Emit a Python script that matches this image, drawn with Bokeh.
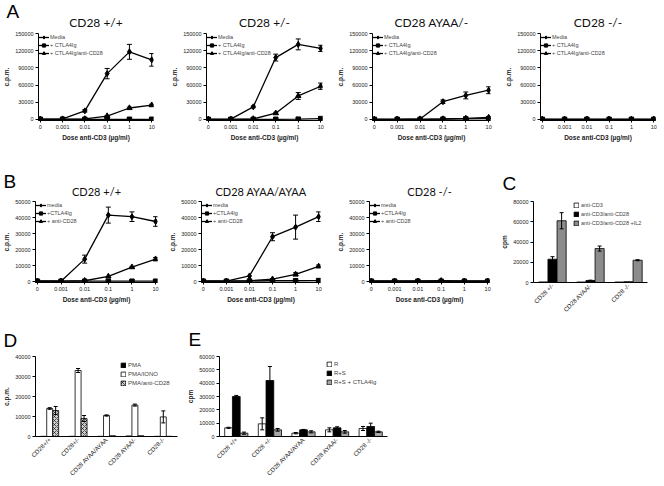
import math
from bokeh.plotting import figure
from bokeh.layouts import row, column
from bokeh.models import (ColumnDataSource, Range1d, FixedTicker, Whisker, TeeHead,
                          Title, FactorRange, NumeralTickFormatter)
from bokeh.transform import dodge
from bokeh.embed import file_html
from bokeh.resources import INLINE

# ---------------- data ----------------
DOSES = ["0", "0.001", "0.01", "0.1", "1", "10"]

A_SERIES = ["Media", "+ CTLA4Ig", "+ CTLA4Ig/anti-CD28"]
B_SERIES = ["media", "+CTLA4Ig", "+ anti-CD28"]

A_TITLES = ["CD28 +/+", "CD28 +/-", "CD28 AYAA/-", "CD28 -/-"]
A1_media = [500, 1000, 15000, 80000, 118000, 104000]
A1_media_err = [0, 0, 2000, 9000, 13000, 11000]
A1_ctla = [300, 300, 300, 300, 300, 300]
A1_ctla_err = [0, 0, 0, 0, 0, 0]
A1_anti = [300, 500, 1000, 6000, 20000, 25000]
A1_anti_err = [0, 0, 0, 1000, 1500, 1500]

A2_media = [300, 500, 22000, 108000, 131000, 124000]
A2_media_err = [0, 0, 1500, 6000, 9500, 5500]
A2_ctla = [200, 200, 200, 300, 500, 1500]
A2_ctla_err = [0, 0, 0, 0, 0, 500]
A2_anti = [200, 300, 1000, 11000, 41000, 58000]
A2_anti_err = [0, 0, 0, 1500, 6000, 5500]

A3_media = [300, 300, 1000, 31000, 42000, 51000]
A3_media_err = [0, 0, 0, 3000, 6000, 6000]
A3_ctla = [200, 200, 200, 500, 1000, 1500]
A3_ctla_err = [0, 0, 0, 0, 0, 0]
A3_anti = [200, 200, 300, 800, 2000, 3500]
A3_anti_err = [0, 0, 0, 0, 0, 0]

A4_media = [300, 300, 300, 300, 300, 300]
A4_media_err = [0, 0, 0, 0, 0, 0]
A4_ctla = [200, 200, 200, 200, 200, 200]
A4_ctla_err = [0, 0, 0, 0, 0, 0]
A4_anti = [200, 200, 200, 200, 200, 200]
A4_anti_err = [0, 0, 0, 0, 0, 0]

B_TITLES = ["CD28 +/+", "CD28 AYAA/AYAA", "CD28 -/-"]
B1_media = [200, 200, 14000, 41500, 40500, 37500]
B1_media_err = [0, 0, 2500, 5000, 3000, 3000]
B1_ctla = [200, 200, 200, 200, 200, 200]
B1_ctla_err = [0, 0, 0, 0, 0, 0]
B1_anti = [200, 200, 500, 3200, 9000, 14000]
B1_anti_err = [0, 0, 0, 0, 500, 1000]

B2_media = [200, 200, 3500, 28000, 34000, 40500]
B2_media_err = [0, 0, 0, 2500, 7500, 3000]
B2_ctla = [200, 200, 300, 500, 500, 600]
B2_ctla_err = [0, 0, 0, 0, 0, 0]
B2_anti = [200, 200, 500, 1500, 4500, 9500]
B2_anti_err = [0, 0, 0, 0, 1000, 800]

B3_media = [200, 200, 300, 600, 300, 300]
B3_media_err = [0, 0, 0, 0, 0, 0]
B3_ctla = [200, 200, 200, 200, 200, 200]
B3_ctla_err = [0, 0, 0, 0, 0, 0]
B3_anti = [200, 200, 200, 200, 200, 200]
B3_anti_err = [0, 0, 0, 0, 0, 0]

C_GROUPS = ["CD28 +/-", "CD28 AYAA/-", "CD28 -/-"]
C_SERIES = ["anti-CD3", "anti-CD3/anti-CD28", "anti-CD3/anti-CD28 +IL2"]
C_cd3 = [600, 500, 500]
C_cd3_err = [0, 0, 0]
C_cd28 = [23000, 2000, 800]
C_cd28_err = [2500, 300, 0]
C_il2 = [61000, 33500, 22000]
C_il2_err = [8000, 2500, 500]

D_GROUPS = ["CD28+/+", "CD28+/-", "CD28 AYAA/AYAA", "CD28 AYAA/-", "CD28-/-"]
D_SERIES = ["PMA", "PMA/IONO", "PMA/anti-CD28"]
D_pma = [100, 100, 100, 300, 100]
D_pma_err = [0, 0, 0, 0, 0]
D_iono = [14000, 33000, 10500, 15700, 9800]
D_iono_err = [400, 1000, 300, 500, 3000]
D_cd28 = [13000, 9000, 400, 400, 100]
D_cd28_err = [2000, 1500, 0, 0, 0]

E_GROUPS = ["CD28 +/+", "CD28 +/-", "CD28 AYAA/AYAA", "CD28 AYAA/-", "CD28 -/-"]
E_SERIES = ["R", "R+S", "R+S + CTLA4Ig"]
E_r = [6500, 9500, 2500, 5000, 6000]
E_r_err = [400, 4500, 500, 1500, 1500]
E_rs = [30000, 42000, 5000, 6500, 7500]
E_rs_err = [800, 10500, 300, 800, 2500]
E_rsc = [2500, 5000, 3500, 3500, 3500]
E_rsc_err = [800, 1000, 800, 1000, 500]

# ---------------- styling helpers ----------------
TICK_FONT = "Liberation Sans"
TITLE_FONT = "Lato"
MARKERS = [("diamond", 6), ("square", 4.5), ("triangle", 5.5)]
HAS_STANDOFF = "standoff" in Title.properties()


def style(p, ylabel, xlabel=None):
    for ax in (p.xaxis[0], p.yaxis[0]):
        ax.axis_line_color = "black"
        ax.axis_line_width = 1
        ax.major_tick_line_color = "black"
        ax.minor_tick_line_color = None
        ax.major_tick_in = 0
        ax.major_tick_out = 2
        ax.major_label_text_font = TICK_FONT
        ax.major_label_text_font_size = "5.5px"
        ax.major_label_text_color = "#222222"
        ax.axis_label_text_font = TICK_FONT
        ax.axis_label_text_font_size = "6.5px"
        ax.axis_label_text_font_style = "bold"
        ax.axis_label_text_color = "#222222"
        ax.major_label_standoff = 2
        ax.axis_label_standoff = 2
    p.yaxis[0].axis_label = ylabel
    if xlabel:
        p.xaxis[0].axis_label = xlabel
    p.xgrid.visible = False
    p.ygrid.visible = False
    p.outline_line_color = None
    p.background_fill_color = "white"
    p.border_fill_color = "white"


def add_titles(p, letter, title, tsize, lb, letter_standoff, title_standoff=7):
    # panel letter: the plot's own (outermost) title
    p.title.text = letter
    p.title.align = "left"
    p.title.offset = -lb + 1
    p.title.text_font = TICK_FONT
    p.title.text_font_size = "19px"
    p.title.text_font_style = "normal"
    p.title.text_color = "black"
    if HAS_STANDOFF:
        p.title.standoff = letter_standoff if letter else 0
    if title:
        t = Title(text=title, align="center", text_font=TITLE_FONT, text_font_size=tsize,
                  text_font_style="normal", text_color="#111111")
        if HAS_STANDOFF:
            t.standoff = title_standoff
        p.add_layout(t, "above")


def line_panel(names, ys, errs, ymax, ystep, w, lb, rb, tb, hf, bb,
               letter="", title="", tsize="12px", lso=-24):
    n = len(DOSES)
    idx = list(range(n))
    p = figure(width=w, height=tb + hf + bb, output_backend="svg", toolbar_location=None,
               x_range=Range1d(-0.08, n - 1 + 0.08), y_range=Range1d(-0.012 * ymax, ymax),
               min_border_left=lb, min_border_right=rb, min_border_top=tb, min_border_bottom=bb)
    for name, y, e, (m, sz) in zip(names, ys, errs, MARKERS):
        src = ColumnDataSource(dict(x=idx, y=y))
        p.line("x", "y", source=src, line_color="black", line_width=1.3, legend_label=name)
        p.scatter("x", "y", source=src, marker=m, size=sz, fill_color="black",
                  line_color="black", legend_label=name)
        pts = [(i, yy, ee) for i, yy, ee in zip(idx, y, e) if ee > 0]
        if pts:
            wsrc = ColumnDataSource(dict(x=[q[0] for q in pts],
                                         lo=[q[1] - q[2] for q in pts],
                                         hi=[q[1] + q[2] for q in pts]))
            p.add_layout(Whisker(source=wsrc, base="x", lower="lo", upper="hi",
                                 line_color="black", line_width=1,
                                 upper_head=TeeHead(size=5, line_color="black", line_width=1),
                                 lower_head=TeeHead(size=5, line_color="black", line_width=1)))
    style(p, "c.p.m.", "Dose anti-CD3 (\u00b5g/ml)")
    p.xaxis[0].ticker = FixedTicker(ticks=idx)
    p.xaxis[0].major_label_overrides = {i: d for i, d in zip(idx, DOSES)}
    p.yaxis[0].ticker = FixedTicker(ticks=list(range(0, ymax + 1, ystep)))
    p.yaxis[0].formatter = NumeralTickFormatter(format="0")
    p.yaxis[0].major_tick_out = 3
    lg = p.legend[0]
    lg.location = "top_left"
    lg.margin = 0
    lg.padding = 1
    lg.spacing = 0
    lg.label_text_font = TICK_FONT
    lg.label_text_font_size = "5.5px"
    lg.label_height = 8
    lg.glyph_height = 8
    lg.glyph_width = 11
    lg.label_standoff = 1
    lg.border_line_color = None
    lg.background_fill_alpha = 0
    add_titles(p, letter, title, tsize, lb, lso)
    return p


def bar_panel(groups, names, vals, errs, fills, hatches, ymax, ystep, ylabel,
              w, lb, rb, tb, hf, bb, bw, letter, lso, leg_xy, leg_font="6px"):
    p = figure(width=w, height=tb + hf + bb, output_backend="svg", toolbar_location=None,
               x_range=FactorRange(factors=groups), y_range=Range1d(0, ymax),
               min_border_left=lb, min_border_right=rb, min_border_top=tb, min_border_bottom=bb)
    offs = [-bw, 0, bw]
    for k, (name, v, e, fc, hp) in enumerate(zip(names, vals, errs, fills, hatches)):
        src = ColumnDataSource(dict(g=groups, v=v))
        kw = {}
        if hp:
            kw = dict(hatch_pattern=hp, hatch_color="black", hatch_scale=4, hatch_weight=0.6)
        p.vbar(x=dodge("g", offs[k], range=p.x_range), top="v", width=bw, source=src,
               fill_color=fc, line_color="black", line_width=0.8, legend_label=name, **kw)
        sel = [i for i, ee in enumerate(e) if ee > 0]
        if sel:
            esrc = ColumnDataSource(dict(g=[groups[i] for i in sel],
                                         lo=[v[i] - e[i] for i in sel],
                                         hi=[v[i] + e[i] for i in sel]))
            xs = dodge("g", offs[k], range=p.x_range)
            p.segment(x0=xs, y0="lo", x1=xs, y1="hi", source=esrc, line_color="black",
                      line_width=1)
            p.scatter(x=xs, y="hi", source=esrc, marker="dash", size=4, line_color="black",
                      line_width=1)
            p.scatter(x=xs, y="lo", source=esrc, marker="dash", size=4, line_color="black",
                      line_width=1)
    style(p, ylabel)
    p.xaxis[0].major_label_orientation = math.pi / 4
    p.xaxis[0].major_tick_out = 0
    p.xaxis[0].major_label_text_font_size = "6.2px"
    p.yaxis[0].ticker = FixedTicker(ticks=list(range(0, ymax + 1, ystep)))
    p.yaxis[0].formatter = NumeralTickFormatter(format="0")
    p.yaxis[0].major_tick_out = 3
    lg = p.legend[0]
    lg.location = leg_xy
    lg.margin = 0
    lg.padding = 1
    lg.spacing = 1
    lg.label_text_font = TICK_FONT
    lg.label_text_font_size = leg_font
    lg.label_height = 8
    lg.glyph_height = 6
    lg.glyph_width = 6
    lg.label_standoff = 2
    lg.border_line_color = None
    lg.background_fill_alpha = 0
    add_titles(p, letter, "", "", lb, lso)
    return p


# ---------------- row A ----------------
A_TB, A_HF, A_BB = 33, 87, 28
a_specs = [
    (168, 33, 15, "A", [A1_media, A1_ctla, A1_anti], [A1_media_err, A1_ctla_err, A1_anti_err]),
    (166, 31, 12, "", [A2_media, A2_ctla, A2_anti], [A2_media_err, A2_ctla_err, A2_anti_err]),
    (168, 33, 12, "", [A3_media, A3_ctla, A3_anti], [A3_media_err, A3_ctla_err, A3_anti_err]),
    (158, 34, 5, "", [A4_media, A4_ctla, A4_anti], [A4_media_err, A4_ctla_err, A4_anti_err]),
]
row_a = []
for (w, lb, rb, letter, ys, es), title in zip(a_specs, A_TITLES):
    row_a.append(line_panel(A_SERIES, ys, es, 150000, 30000, w, lb, rb, A_TB, A_HF, A_BB,
                            letter=letter, title=title, tsize="12px", lso=-24))

# ---------------- row B ----------------
B_TB, B_HF, B_BB = 53, 84, 33
b_specs = [
    (166, 33, 9, "B", [B1_media, B1_ctla, B1_anti], [B1_media_err, B1_ctla_err, B1_anti_err]),
    (168, 32, 14, "", [B2_media, B2_ctla, B2_anti], [B2_media_err, B2_ctla_err, B2_anti_err]),
    (164, 32, 9, "", [B3_media, B3_ctla, B3_anti], [B3_media_err, B3_ctla_err, B3_anti_err]),
]
row_b = []
for (w, lb, rb, letter, ys, es), title in zip(b_specs, B_TITLES):
    row_b.append(line_panel(B_SERIES, ys, es, 50000, 10000, w, lb, rb, B_TB, B_HF, B_BB,
                            letter=letter, title=title, tsize="11px", lso=-24))

pc = bar_panel(C_GROUPS, C_SERIES, [C_cd3, C_cd28, C_il2], [C_cd3_err, C_cd28_err, C_il2_err],
               ["white", "black", "#8c8c8c"], [None, None, None], 80000, 20000, "cpm",
               162, 32, 13, B_TB, B_HF, B_BB, 0.24, "C", 15, (40, B_HF - 1 - 28), "5.5px")
row_b.append(pc)

# ---------------- row D/E ----------------
DE_TB, DE_HF, DE_BB = 38, 82, 44
pd_ = bar_panel(D_GROUPS, D_SERIES, [D_pma, D_iono, D_cd28], [D_pma_err, D_iono_err, D_cd28_err],
                ["black", "white", "#d0d0d0"], [None, None, "x"], 40000, 10000, "c.p.m.",
                184, 33, 7, DE_TB, DE_HF, DE_BB, 0.21, "D", 12, (85, DE_HF - 5 - 28))
pe = bar_panel(E_GROUPS, E_SERIES, [E_r, E_rs, E_rsc], [E_r_err, E_rs_err, E_rsc_err],
               ["white", "black", "#a6a6a6"], [None, None, None], 60000, 10000, "cpm",
               216, 32, 13, DE_TB, DE_HF, DE_BB, 0.23, "E", 14, (107, DE_HF - 4 - 28))

layout = column(row(*row_a), row(*row_b), row(pd_, pe))

open("out.html", "w").write(file_html(layout, INLINE))
